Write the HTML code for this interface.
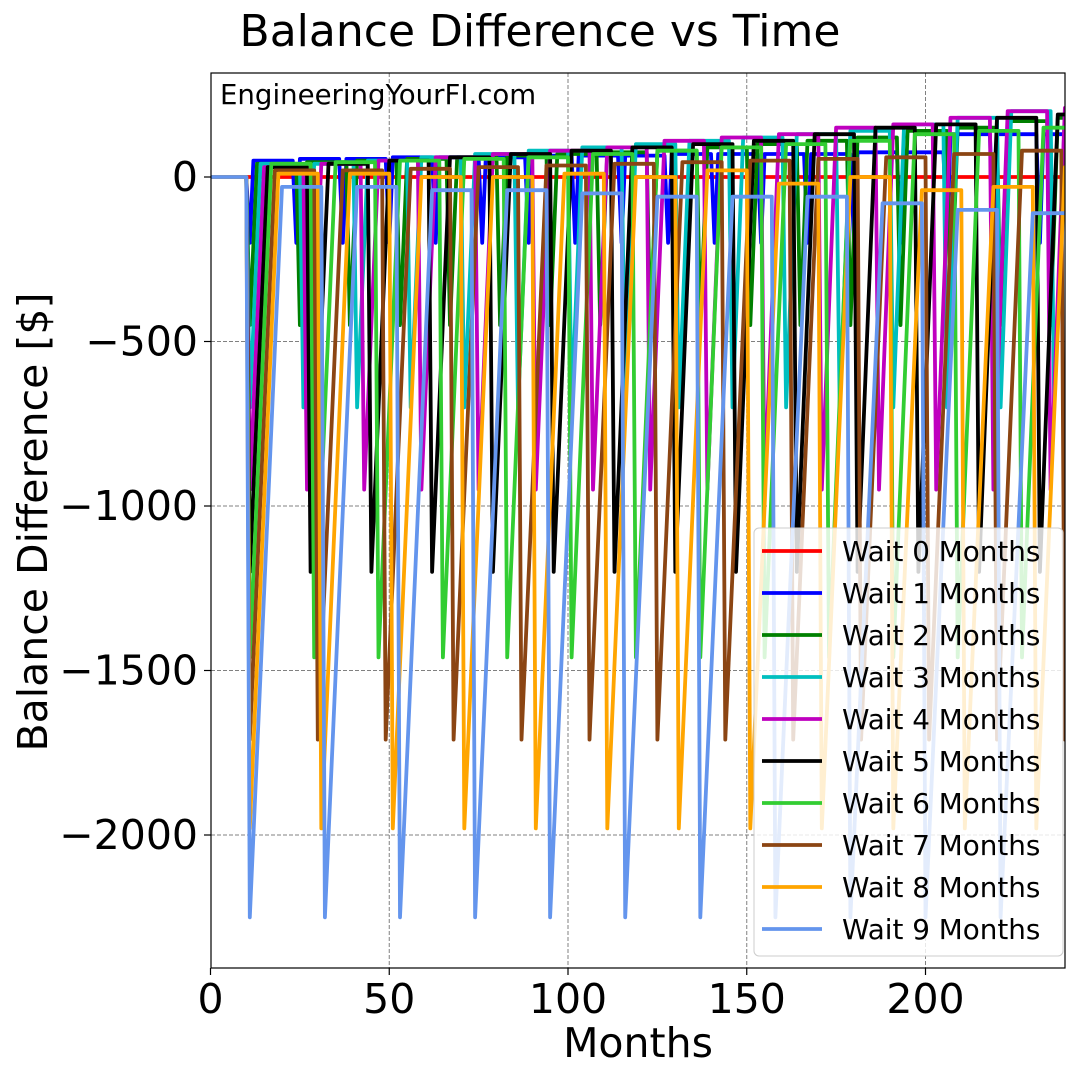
<!DOCTYPE html>
<html><head><meta charset="utf-8"><style>
body{margin:0;background:#fff;}
svg text{font-family:"DejaVu Sans","Liberation Sans",sans-serif;}
</style></head><body>
<svg id="chart" width="1080" height="1080" xmlns="http://www.w3.org/2000/svg">
<rect width="1080" height="1080" fill="#fff"/>
<text x="540" y="46" font-size="44" text-anchor="middle">Balance Difference vs Time</text>
<g id="grid"></g>
<clipPath id="clip"><rect x="211" y="73" width="854" height="895"/></clipPath>
<g id="series" clip-path="url(#clip)"></g>
<rect x="211" y="73" width="854" height="895" fill="none" stroke="#000" stroke-width="1.2"/>
<g id="ticks"></g>
<text x="220" y="104" font-size="27.6">EngineeringYourFI.com</text>
<text transform="translate(47,522) rotate(-90)" font-size="41" text-anchor="middle">Balance Difference [$]</text>
<text x="638" y="1057" font-size="41" text-anchor="middle">Months</text>
<g id="legend"></g>
</svg>
<script>
const xTicks=[0,50,100,150,200];
const yTicks=[0,-500,-1000,-1500,-2000];
const yTickLabels=["0","\u2212500","\u22121000","\u22121500","\u22122000"];
const seriesNames=["Wait 0 Months","Wait 1 Months","Wait 2 Months","Wait 3 Months","Wait 4 Months","Wait 5 Months","Wait 6 Months","Wait 7 Months","Wait 8 Months","Wait 9 Months"];
const seriesColors=["#ff0000","#0000ff","#008000","#00bfbf","#bf00bf","#000000","#32cd32","#8b4513","#ffa500","#6495ed"];
const waitMonths=[0,1,2,3,4,5,6,7,8,9];
const dipDepths=[0,200,450,700,950,1200,1460,1710,1980,2250];
const dips1=[11,24,37,50,63,76,89,102,115,128,141,154,167,180,193,206,219,232];
const dips2=[11,25,39,53,67,81,95,109,123,137,151,165,179,193,207,221,235];
const dips3=[11,26,41,56,71,86,101,116,131,146,161,176,191,206,221,236];
const dips4=[11,27,43,59,75,91,107,123,139,155,171,187,203,219,235];
const dips5=[11,28,45,62,79,96,113,130,147,164,181,198,215,232];
const dips6=[11,29,47,65,83,101,119,137,155,173,191,209,227];
const dips7=[11,30,49,68,87,106,125,144,163,182,201,220,239];
const dips8=[11,31,51,71,91,111,131,151,171,191,211,231];
const dips9=[11,32,53,74,95,116,137,158,179,200,221];
const levels1=[50,55,55,60,60,60,65,65,65,70,70,70,70,75,75,130,130,130];
const levels2=[40,45,50,55,60,65,70,75,80,90,100,110,120,140,150,170,180];
const levels3=[40,40,50,60,70,80,90,100,110,120,130,140,160,180,200,200];
const levels4=[30,40,50,60,70,80,90,110,120,130,150,160,180,200,210];
const levels5=[30,40,50,60,70,80,90,100,110,130,150,160,180,190];
const levels6=[40,45,50,55,60,70,80,90,100,110,130,140,150];
const levels7=[20,20,25,30,35,40,45,50,55,60,70,80,80];
const levels8=[10,10,0,0,10,0,20,-20,0,-40,-30,30];
const levels9=[-30,-30,-40,-40,-50,-60,-60,-60,-80,-100,-110];
const allDips=[[],dips1,dips2,dips3,dips4,dips5,dips6,dips7,dips8,dips9];
const allLevels=[[],levels1,levels2,levels3,levels4,levels5,levels6,levels7,levels8,levels9];

const NS="http://www.w3.org/2000/svg";
const X0=210.5,XS=3.575,XMAX=239;
const Y0=177,YS=0.329;
const xs=m=>X0+m*XS;
const ys=v=>Y0-v*YS;
function mk(tag,attrs,parent){const e=document.createElementNS(NS,tag);for(const k in attrs)e.setAttribute(k,attrs[k]);parent.appendChild(e);return e;}

const grid=document.getElementById('grid'),ticks=document.getElementById('ticks');
xTicks.forEach((t,i)=>{
  if(t>0){const l=mk('line',{x1:xs(t),x2:xs(t),y1:73,y2:968,stroke:'#808080','stroke-width':1,'stroke-dasharray':'4,2'},grid);
  
  }
  const tk=mk('line',{x1:xs(t),x2:xs(t),y1:968,y2:975,stroke:'#000','stroke-width':1.2},ticks);
  
  
  const tx=mk('text',{x:xs(t),y:1013,'font-size':41,'text-anchor':'middle'},ticks);
  tx.textContent=t;
  
  
});
yTicks.forEach((t,i)=>{
  const l=mk('line',{x1:211,x2:1065,y1:ys(t),y2:ys(t),stroke:'#808080','stroke-width':1,'stroke-dasharray':'4,2'},grid);
  
  
  const tk=mk('line',{x1:204,x2:211,y1:ys(t),y2:ys(t),stroke:'#000','stroke-width':1.2},ticks);
  
  
  const tx=mk('text',{x:198,y:ys(t)+14,'font-size':41,'text-anchor':'end'},ticks);
  tx.textContent=yTickLabels[i];
  
  
});

const sg=document.getElementById('series');
seriesNames.forEach((name,s)=>{
  const k=waitMonths[s],dips=allDips[s],lv=allLevels[s],d=dipDepths[s];
  let pts=[[0,0]],prev=0;
  dips.forEach((m,i)=>{
    pts.push([m-1,prev]);
    pts.push([m,-d]);
    const r=Math.min(m+k,XMAX+5);
    pts.push([r,lv[i]]);
    prev=lv[i];
  });
  pts.push([XMAX+2,prev]);
  const p=mk('polyline',{points:pts.map(q=>xs(q[0]).toFixed(1)+','+ys(q[1]).toFixed(1)).join(' '),fill:'none',stroke:seriesColors[s],'stroke-width':3.8,'stroke-linejoin':'round'},sg);
  
  
});

const lg=document.getElementById('legend');
const box=mk('rect',{x:754,y:528,width:309,height:428,rx:5,fill:'#fff','fill-opacity':0.82,stroke:'#ccc','stroke-width':1},lg);


seriesNames.forEach((name,s)=>{
  const y=551+s*42;
  const l=mk('line',{x1:762,x2:822,y1:y,y2:y,stroke:seriesColors[s],'stroke-width':3.8},lg);
  
  
  const t=mk('text',{x:842,y:y+10,'font-size':27.8},lg);
  t.textContent=name;
  
  
});
</script>
</body></html>
